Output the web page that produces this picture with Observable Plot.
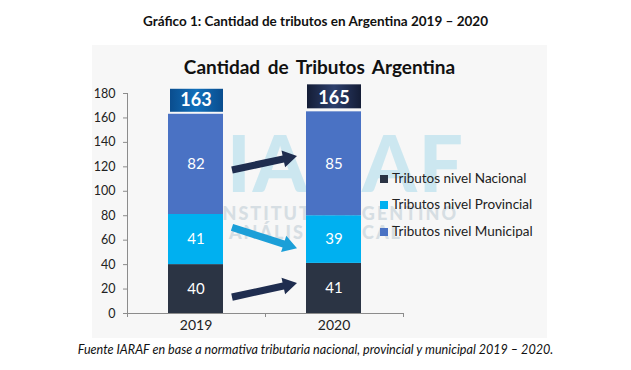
<!DOCTYPE html>
<html>
<head>
<meta charset="utf-8">
<script src="https://cdn.jsdelivr.net/npm/d3@7"></script>
<script src="https://cdn.jsdelivr.net/npm/@observablehq/plot@0.6"></script>
<style>
  body { margin:0; background:#fff; width:631px; height:370px; position:relative; overflow:hidden; font-family:Lato, "Open Sans", sans-serif; }
  #title { position:absolute; left:0; width:631px; top:13px; text-align:center; font-weight:bold; font-size:13.5px; color:#111; }
  #panel { position:absolute; left:92px; top:45px; width:455px; height:293px; background:#f7f7f7; }
  #inner { position:absolute; left:0; width:455px; top:10px; text-align:center; font-weight:bold; font-size:19px; word-spacing:3px; color:#111; }
  .wm { position:absolute; font-weight:900; white-space:nowrap; }
  #wm1 { right:82px; top:70px; font-size:78px; color:#cce7f0; letter-spacing:2px; }
  #wm2 { right:89px; top:157px; font-size:18px; color:#d6dee3; letter-spacing:2px; }
  #wm3 { right:145px; top:176px; font-size:18px; color:#d6dee3; letter-spacing:2px; }
  #chart { position:absolute; left:0; top:0; }
  #legend { position:absolute; left:288px; top:124px; font-size:13.5px; color:#222; }
  #legend div { position:absolute; left:0; white-space:nowrap; height:18px; line-height:18px; }
  #legend span.sw { display:inline-block; width:8px; height:8px; margin-right:4px; vertical-align:0px; }
  #caption { position:absolute; left:0; width:631px; top:342px; text-align:center; font-style:italic; font-size:12.6px; color:#111; }
  #chart g[aria-label="y-axis tick"] path { stroke:#8c8c8c; }
  #chart g[aria-label="y-axis tick label"] text { font-size:12.5px; }
  #chart g[aria-label="x-axis tick label"] text { font-size:14px; }
</style>
</head>
<body>
<div id="title">Gráfico 1: Cantidad de tributos en Argentina 2019 – 2020</div>
<div id="panel">
  <div class="wm" id="wm1">IARAF</div>
  <div class="wm" id="wm2">INSTITUTO ARGENTINO</div>
  <div class="wm" id="wm3">DE ANÁLISIS FISCAL</div>
  <div id="inner">Cantidad de Tributos Argentina</div>
  <div id="chart"></div>
  <div id="legend"></div>
</div>
<div id="caption">Fuente IARAF en base a normativa tributaria nacional, provincial y municipal 2019 – 2020.</div>
<script>
// ---- data ----
const years = ["2019", "2020"];
const nacional = [40, 41];
const provincial = [41, 39];
const municipal = [82, 85];
const totals = [163, 165];
const levels = ["Tributos nivel Nacional", "Tributos nivel Provincial", "Tributos nivel Municipal"];
const levelColors = ["#2b3444", "#00b0f0", "#4a72c4"];
const yTicks = [0, 20, 40, 60, 80, 100, 120, 140, 160, 180];
// decorative arrows (in y units)
const arrowFrom = [117, 70, 13];
const arrowTo = [128.5, 53, 24.5];
const arrowColors = ["#1f2d4f", "#1b9fd8", "#1f2d4f"];
const totalColorsEdge = ["#0a4d8e", "#141d36"];
const totalColorsMid = ["#1170bb", "#2d3f6c"];

const rows = years.flatMap((yr, i) => [
  {year: yr, level: levels[0], value: nacional[i]},
  {year: yr, level: levels[1], value: provincial[i]},
  {year: yr, level: levels[2], value: municipal[i]}
]);
const totRows = years.map((yr, i) => ({year: yr, total: totals[i], idx: i}));

function axesMark(index, scales, values, dims) {
  const {x, y} = scales;
  const g = d3.create("svg:g").attr("stroke", "#8c8c8c").attr("fill", "none");
  const left = dims.marginLeft, right = dims.width - dims.marginRight;
  const y0 = y(0);
  g.append("line").attr("x1", left + 0.5).attr("x2", left + 0.5).attr("y1", y(yTicks[yTicks.length - 1])).attr("y2", y0);
  g.append("line").attr("x1", left).attr("x2", right).attr("y1", y0 + 0.5).attr("y2", y0 + 0.5);
  for (const xx of [left, (left + right) / 2, right]) {
    g.append("line").attr("x1", Math.round(xx) + 0.5).attr("x2", Math.round(xx) + 0.5).attr("y1", y0).attr("y2", y0 + 4);
  }
  return g.node();
}

function arrowsMark(index, scales) {
  const {x, y} = scales;
  const bw = typeof x.bandwidth === "function" ? x.bandwidth() : x.bandwidth;
  const gap = 9, hw = 3.6, hl = 14, hh = 8.5;
  const g = d3.create("svg:g");
  arrowFrom.forEach((v, i) => {
    const x0 = x(years[0]) + bw + gap, x1 = x(years[1]) - gap;
    const y0 = y(v), y1 = y(arrowTo[i]);
    const len = Math.hypot(x1 - x0, y1 - y0);
    const ux = (x1 - x0) / len, uy = (y1 - y0) / len;
    const nx = -uy, ny = ux;
    const bx = x1 - ux * hl, by = y1 - uy * hl;
    const pts = [
      [x0 + nx * hw, y0 + ny * hw],
      [bx + nx * hw, by + ny * hw],
      [bx + nx * hh, by + ny * hh],
      [x1, y1],
      [bx - nx * hh, by - ny * hh],
      [bx - nx * hw, by - ny * hw],
      [x0 - nx * hw, y0 - ny * hw]
    ];
    g.append("polygon").attr("points", pts.map(p => p.join(",")).join(" ")).attr("fill", arrowColors[i]);
  });
  return g.node();
}

const chart = Plot.plot({
  width: 455,
  height: 293,
  marginTop: 48,
  marginBottom: 25,
  marginLeft: 35,
  marginRight: 144,
  style: {background: "transparent", fontFamily: "Lato, sans-serif", fontSize: "13px", color: "#222", overflow: "visible"},
  x: {type: "band", domain: years, paddingInner: 0.6, paddingOuter: 0.3, label: null, tickSize: 0, tickPadding: 7},
  y: {domain: [0, 180], ticks: yTicks, label: null, tickSize: 4, tickPadding: 8},
  color: {domain: levels, range: levelColors},
  marks: [
    axesMark,
    Plot.barY(rows, {x: "year", y: "value", fill: "level"}),
    Plot.text(rows, Plot.stackY({x: "year", y: "value", z: "level", text: "value", fill: "white", fontSize: 15})),
    Plot.barY(totRows.filter(d => d.idx === 0), {x: "year", y1: "total", y2: "total", insetTop: -25, insetBottom: 2, insetLeft: 2, fill: "url(#gtot0)"}),
    Plot.barY(totRows.filter(d => d.idx === 1), {x: "year", y1: "total", y2: "total", insetTop: -27, insetBottom: 3, insetLeft: 1, fill: "url(#gtot1)"}),
    Plot.text(totRows, {x: "year", y: "total", text: "total", dy: -14, fill: "white", fontWeight: "bold", fontSize: 18}),
    arrowsMark
  ]
});

// gradients for the total boxes
const svg = d3.select(chart.tagName.toLowerCase() === "svg" ? chart : chart.querySelector("svg"));
const defs = svg.insert("defs", ":first-child");
[0, 1].forEach(i => {
  const lg = defs.append("linearGradient").attr("id", "gtot" + i).attr("x1", "0").attr("x2", "1").attr("y1", "0").attr("y2", "0");
  lg.append("stop").attr("offset", "0").attr("stop-color", totalColorsEdge[i]);
  lg.append("stop").attr("offset", "0.5").attr("stop-color", totalColorsMid[i]);
  lg.append("stop").attr("offset", "1").attr("stop-color", totalColorsEdge[i]);
});
document.getElementById("chart").appendChild(chart);

// legend (HTML)
const legendTops = [0, 26, 53];
const legend = d3.select("#legend");
levels.forEach((lv, i) => {
  const row = legend.append("div").style("top", legendTops[i] + "px");
  row.append("span").attr("class", "sw").style("background", levelColors[i]);
  row.append("span").text(lv);
});
</script>
</body>
</html>
